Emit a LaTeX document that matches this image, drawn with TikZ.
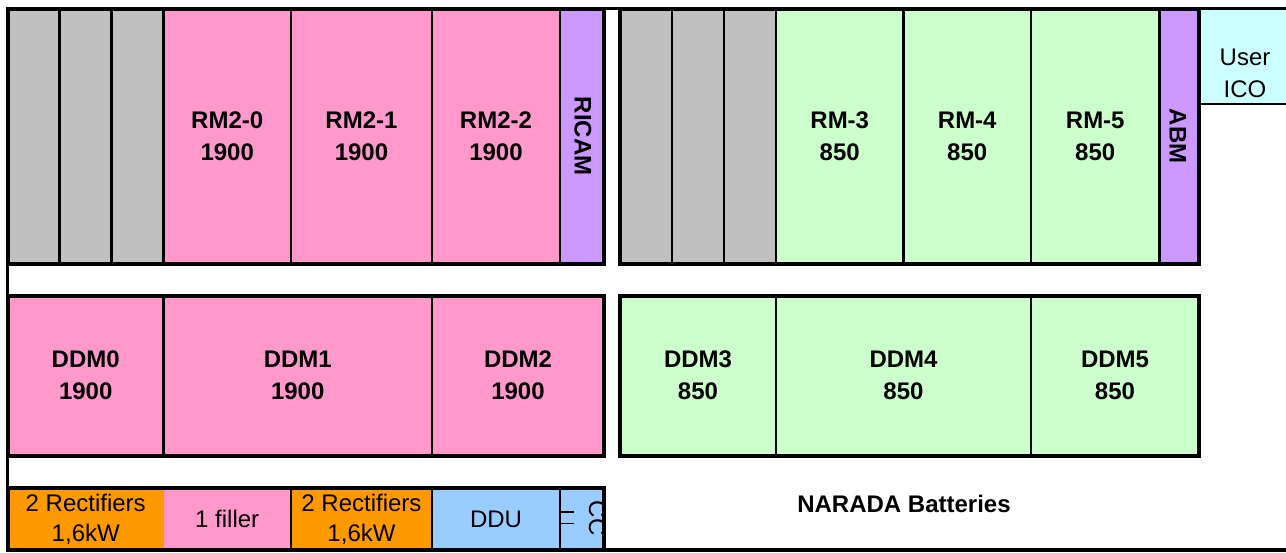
\documentclass[tikz,border=0pt]{standalone}
\usepackage{fontspec}
\setmainfont{Liberation Sans}
\definecolor{cgray}{HTML}{C0C0C0}
\definecolor{cpink}{HTML}{FF99CC}
\definecolor{cviolet}{HTML}{CC99FF}
\definecolor{cgreen}{HTML}{CCFFCC}
\definecolor{ccyan}{HTML}{CCFFFF}
\definecolor{corange}{HTML}{FF9900}
\definecolor{cblue}{HTML}{99CCFF}
\begin{document}
\begin{tikzpicture}[x=1pt,y=-1pt,
  cell/.style={draw=none, inner sep=0pt, outer sep=0pt, anchor=north west, align=center, text=black},
  bt/.style={font=\fontsize{24}{32}\selectfont\bfseries},
  rt/.style={font=\fontsize{24}{30}\selectfont},
  divider/.style={draw=black, line width=2.8pt},
  panel/.style={draw=black, line width=4pt},
  frame/.style={draw=black, line width=3.6pt}]
\useasboundingbox (0,0) rectangle (1286,552);
\clip (0,0) rectangle (1286,552);
\fill[white] (0,0) rectangle (1286,552);

% ---- top-left panel
\node[cell, fill=cgray, minimum width=51.5pt, minimum height=254.5pt] (g1) at (8,9) {};
\node[cell, fill=cgray, minimum width=52pt, minimum height=254.5pt] (g2) at (59.5,9) {};
\node[cell, fill=cgray, minimum width=52pt, minimum height=254.5pt] (g3) at (111.5,9) {};
\node[cell, fill=cpink, bt, minimum width=127.5pt, minimum height=254.5pt] (rm20) at (163.5,9) {RM2-0\\1900};
\node[cell, fill=cpink, bt, minimum width=141pt, minimum height=254.5pt] (rm21) at (291,9) {RM2-1\\1900};
\node[cell, fill=cpink, bt, minimum width=128pt, minimum height=254.5pt] (rm22) at (432,9) {RM2-2\\1900};
\node[cell, fill=cviolet, minimum width=44pt, minimum height=254.5pt] (ricam) at (560,9) {};
\node[bt, rotate=-90, inner sep=0pt] (ricamt) at ([xshift=1pt]ricam.center) {RICAM};

% ---- top-right panel
\node[cell, fill=cgray, minimum width=52pt, minimum height=254.5pt] (g4) at (620,9) {};
\node[cell, fill=cgray, minimum width=52pt, minimum height=254.5pt] (g5) at (672,9) {};
\node[cell, fill=cgray, minimum width=52pt, minimum height=254.5pt] (g6) at (724,9) {};
\node[cell, fill=cgreen, bt, minimum width=127.5pt, minimum height=254.5pt] (rm3) at (776,9) {RM-3\\850};
\node[cell, fill=cgreen, bt, minimum width=127.5pt, minimum height=254.5pt] (rm4) at (903.5,9) {RM-4\\850};
\node[cell, fill=cgreen, bt, minimum width=128.5pt, minimum height=254.5pt] (rm5) at (1031,9) {RM-5\\850};
\node[cell, fill=cviolet, minimum width=39.5pt, minimum height=254.5pt] (abm) at (1159.5,9) {};
\node[bt, rotate=-90, inner sep=0pt] (abmt) at ([xshift=-1.5pt]abm.center) {ABM};

% ---- User ICO
\node[cell, fill=ccyan, minimum width=93pt, minimum height=95pt] (ico) at (1199,9) {};
\node[align=center, inner sep=0pt, font=\fontsize{24}{32}\selectfont] (icot) at (1245,73.5) {User\\ICO};

% ---- DDM row left
\node[cell, fill=cpink, bt, minimum width=155.5pt, minimum height=160pt] (ddm0) at (8,295.5) {DDM0\\1900};
\node[cell, fill=cpink, bt, minimum width=268.5pt, minimum height=160pt] (ddm1) at (163.5,295.5) {DDM1\\1900};
\node[cell, fill=cpink, bt, minimum width=172pt, minimum height=160pt] (ddm2) at (432,295.5) {DDM2\\1900};

% ---- DDM row right
\node[cell, fill=cgreen, bt, minimum width=156pt, minimum height=160pt] (ddm3) at (620,295.5) {DDM3\\850};
\node[cell, fill=cgreen, bt, minimum width=255pt, minimum height=160pt] (ddm4) at (776,295.5) {DDM4\\850};
\node[cell, fill=cgreen, bt, minimum width=168pt, minimum height=160pt] (ddm5) at (1031,295.5) {DDM5\\850};

% ---- bottom row
\node[cell, fill=corange, rt, minimum width=155.5pt, minimum height=62pt] (rec1) at (8,488) {2 Rectifiers\\1,6kW};
\node[cell, fill=cpink, rt, minimum width=127.5pt, minimum height=62pt] (filler) at (163.5,488) {1 filler};
\node[cell, fill=corange, rt, minimum width=141pt, minimum height=62pt] (rec2) at (291,488) {2 Rectifiers\\1,6kW};
\node[cell, fill=cblue, rt, minimum width=128pt, minimum height=62pt] (ddu) at (432,488) {DDU};
\node[cell, fill=cblue, minimum width=44pt, minimum height=62pt] (cc) at (560,488) {};
\begin{scope}
  \clip (cc.north west) rectangle ([xshift=-1.3pt]cc.south east);
  \node[rt, rotate=-90, anchor=base, inner sep=0pt] (cct) at (589,518) {CC};
\end{scope}

% ---- cell borders (drawn after all fills)
\foreach \n in {g1,g2,g3,rm20,rm21,rm22,ricam,g4,g5,g6,rm3,rm4,rm5,abm,ico,ddm0,ddm1,ddm2,ddm3,ddm4,ddm5,rec2,ddu,cc}
  \draw[divider] (\n.north west) rectangle (\n.south east);
\draw[line width=1.8pt] ([yshift=-24pt]cc.north west) -- ++(14,0);
\draw[line width=1.8pt] ([yshift=-35.5pt]cc.north west) -- ++(14,0);

% ---- panel outlines
\draw[panel] (g1.north west) rectangle (ricam.south east);
\draw[panel] (g4.north west) rectangle (abm.south east);
\draw[panel] (ddm0.north west) rectangle (ddm2.south east);
\draw[panel] (ddm3.north west) rectangle (ddm5.south east);
\draw[panel] (rec1.north west) rectangle (cc.south east);

% ---- label
\node[bt, inner sep=0pt] (narada) at (904,504) {NARADA Batteries};

% ---- outer frame
\draw[frame] (1300,8.5) -- (7.5,8.5) -- (7.5,550) -- (1300,550);
\end{tikzpicture}
\end{document}
